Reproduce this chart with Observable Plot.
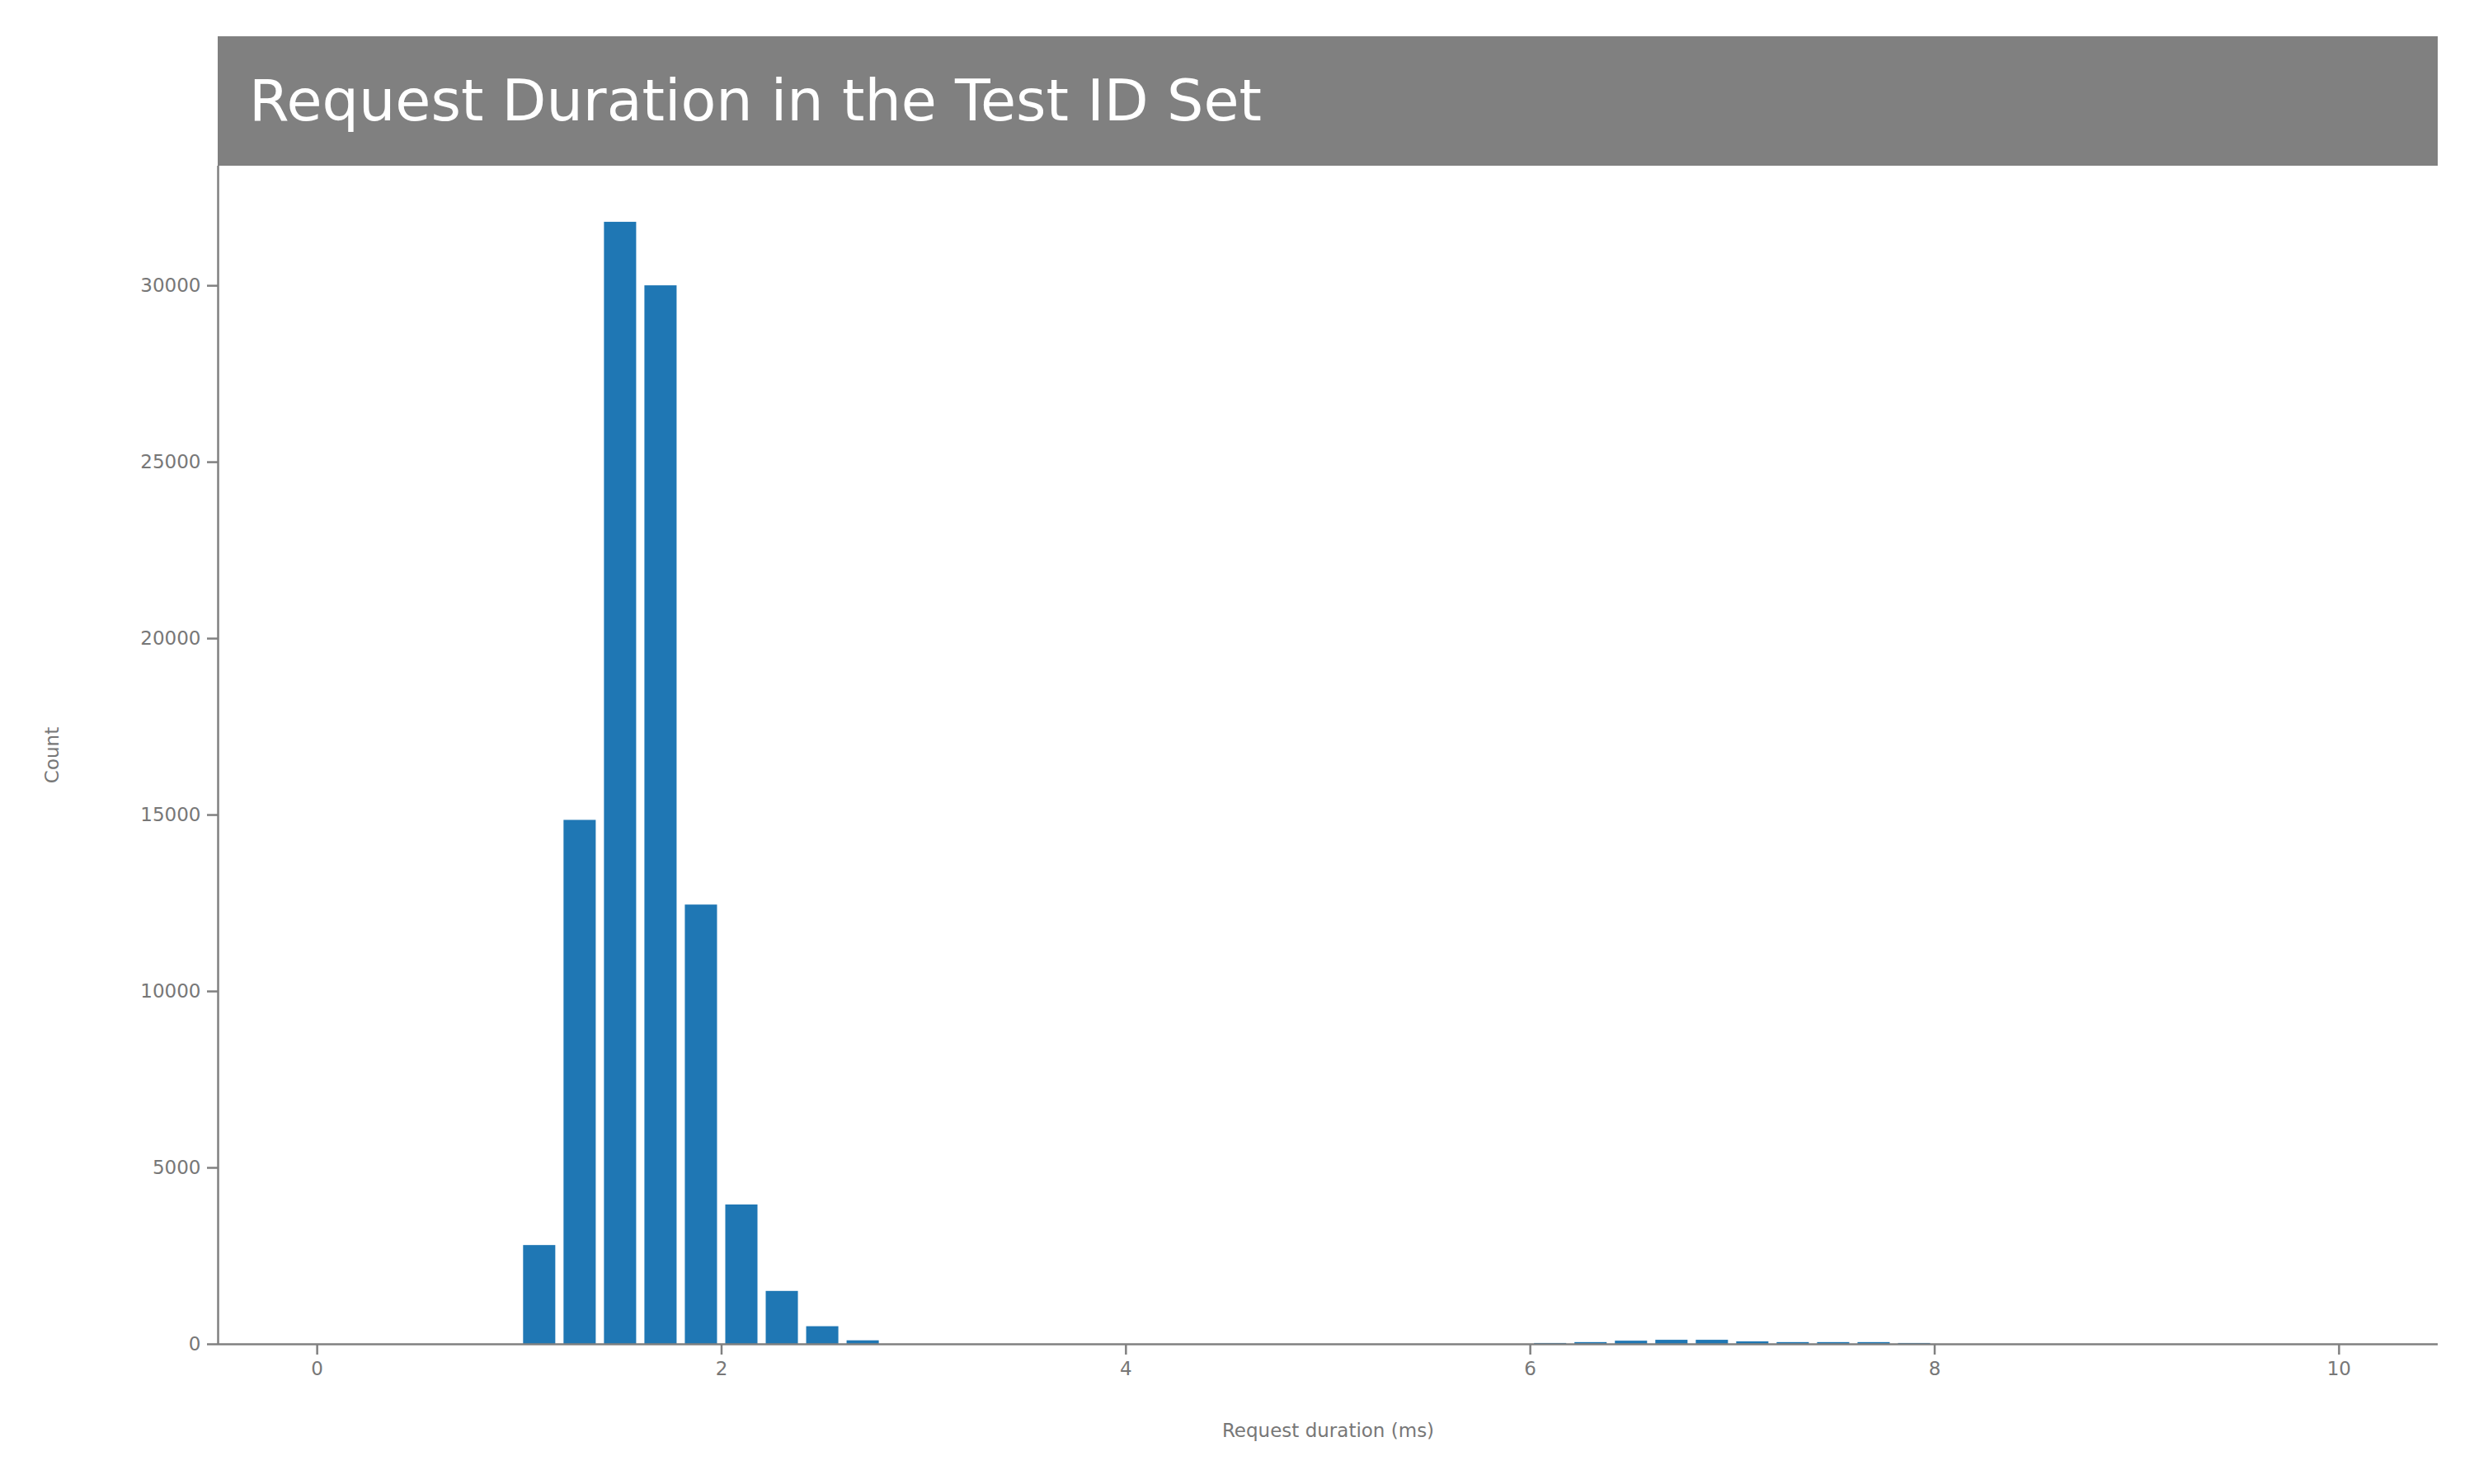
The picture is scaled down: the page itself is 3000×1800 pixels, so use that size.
<!DOCTYPE html>
<html>
<head>
<meta charset="utf-8">
<script src="https://cdn.jsdelivr.net/npm/d3@7"></script>
<script src="https://cdn.jsdelivr.net/npm/@observablehq/plot@0.6"></script>
<style>
  body { margin: 0; background: #fff; font-family: "DejaVu Sans", sans-serif; }
  #wrap { position: relative; width: 3000px; height: 1800px; }
  #title { position: absolute; left: 264px; top: 44px; width: 2692px; height: 157px;
           background: #808080; color: #fff; font-size: 70px; line-height: 157px;
           box-sizing: border-box; padding-left: 38px; }
  #chart { position: absolute; left: 0; top: 201px; }
</style>
</head>
<body>
<div id="wrap">
  <div id="title">Request Duration in the Test ID Set</div>
  <div id="chart"></div>
</div>
<script>
// histogram bins, 0.2 ms wide (left edge)
const binStart = [1.0, 1.2, 1.4, 1.6, 1.8, 2.0, 2.2, 2.4, 2.6,
                  6.0, 6.2, 6.4, 6.6, 6.8, 7.0, 7.2, 7.4, 7.6, 7.8];
const binCount = [2800, 14850, 31800, 30000, 12450, 3950, 1500, 500, 100,
                  25, 50, 90, 115, 115, 70, 50, 50, 50, 25];
const binWidth = 0.2;
const xTicks = [0, 2, 4, 6, 8, 10];
const yTicks = [0, 5000, 10000, 15000, 20000, 25000, 30000];

const bins = binStart.map((x, i) => ({x1: x, x2: x + binWidth, count: binCount[i]}));

const gray = "#808080";
const chart = Plot.plot({
  width: 3000,
  height: 1599,
  marginTop: 0,
  marginLeft: 264,
  marginRight: 44,
  marginBottom: 170,
  style: {fontFamily: "DejaVu Sans", fontSize: "23px", color: "#777", background: "transparent"},
  x: {domain: [-0.49, 10.49]},
  y: {domain: [0, 33390]},
  marks: [
    Plot.rectY(bins, {x1: "x1", x2: "x2", y: "count", fill: "#1f77b4", insetLeft: 5, insetRight: 5}),
    Plot.axisX({ticks: xTicks, tickSize: 13, tickPadding: 8, stroke: gray, strokeWidth: 2.5,
                label: "Request duration (ms)", labelAnchor: "center", labelOffset: 112, labelArrow: "none"}),
    Plot.axisY({ticks: yTicks, tickSize: 13, tickPadding: 8, tickFormat: d => String(d), stroke: gray, strokeWidth: 2.5,
                label: "Count", labelAnchor: "center", labelOffset: 210, labelArrow: "none"}),
    Plot.ruleY([0], {stroke: gray, strokeWidth: 2.5}),
    Plot.ruleX([-0.49], {stroke: gray, strokeWidth: 2.5})
  ]
});
document.getElementById("chart").append(chart);
</script>
</body>
</html>
